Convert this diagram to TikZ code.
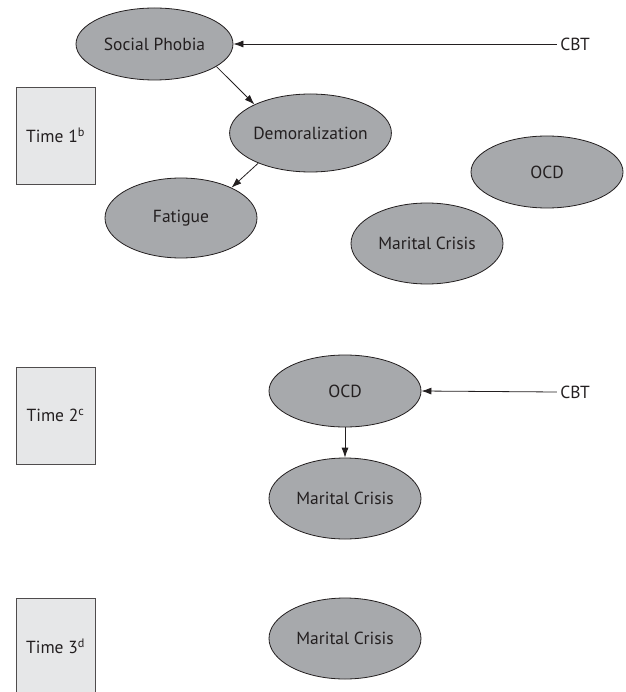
\documentclass[tikz,border=0pt]{standalone}
\usepackage{fontspec}
\setmainfont{PT Sans}
\usepackage{tikz}
\usetikzlibrary{shapes.geometric}
\usetikzlibrary{arrows.meta}
\definecolor{ellgray}{RGB}{167,169,172}
\definecolor{boxgray}{RGB}{230,231,232}
\definecolor{inkgray}{RGB}{35,31,32}

\begin{document}
\begin{tikzpicture}[x=1pt, y=-1pt,
        every node/.style={font=\fontsize{17.5}{20}\selectfont, text=inkgray},
        cause/.style={ellipse, draw=inkgray, line width=0.8pt, fill=ellgray, inner sep=0pt, minimum width=152, minimum height=78},
        timebox/.style={rectangle, draw=inkgray!80, line width=0.8pt, fill=boxgray, minimum width=79, minimum height=97},
        link/.style={draw=inkgray, line width=0.8pt, -{Latex[length=10pt, width=7pt]}}]
        \useasboundingbox (0,0) rectangle (625,692);
        \node[timebox] (t1) at (55.5,135.5) {Time 1\textsuperscript{b}};
        \node[timebox] (t2) at (55.5,415.5) {Time 2\textsuperscript{c}};
        \node[timebox] (t3) at (55.5,646.5) {Time 3\textsuperscript{d}};
        \node[cause, minimum width=157, minimum height=72] (sp) at (154.5,44) {Social Phobia};
        \node[cause, minimum width=157] (dem) at (310.5,133) {Demoralization};
        \node[cause, minimum height=80] (fat) at (181,218) {Fatigue};
        \node[cause, minimum height=72] (ocda) at (547,172) {OCD};
        \node[cause, minimum height=81] (mca) at (427,243.5) {Marital Crisis};
        \node (cbta) at (575,44) {CBT};
        \node[cause, minimum height=72] (ocdb) at (345,391) {OCD};
        \node[cause, minimum height=81] (mcb) at (345,498.5) {Marital Crisis};
        \node (cbtb) at (575,392) {CBT};
        \node[cause, minimum height=81] (mcc) at (345,638.5) {Marital Crisis};
        \draw[link] (cbta.west) -- (sp.east);
        \draw[link] (sp.-20) -- (dem.153);
        \draw[link] (dem.210) -- (fat.31);
        \draw[link] (cbtb.west) -- (ocdb.east);
        \draw[link] (ocdb) -- (mcb);
\end{tikzpicture}
\end{document}
